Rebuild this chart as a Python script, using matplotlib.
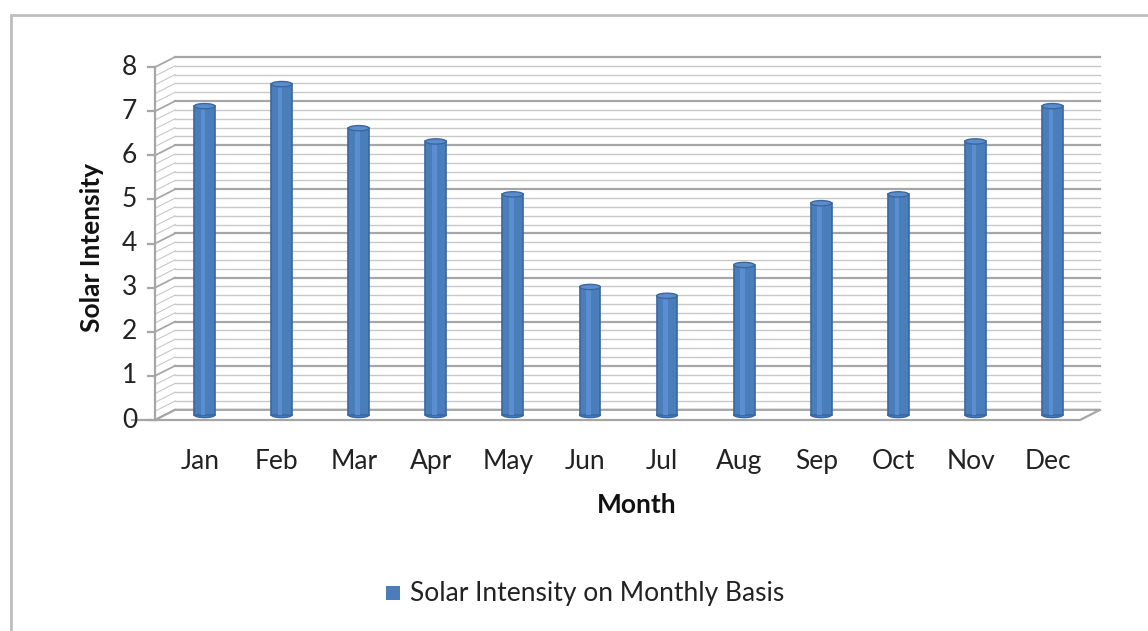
"""Solar intensity per month - Excel-style 3D cylinder column chart."""
import matplotlib
matplotlib.use("Agg")
import matplotlib.pyplot as plt
import numpy as np
from matplotlib import patches

months = ["Jan", "Feb", "Mar", "Apr", "May", "Jun",
          "Jul", "Aug", "Sep", "Oct", "Nov", "Dec"]
intensity = [7.0, 7.5, 6.5, 6.2, 5.0, 2.9, 2.7, 3.4, 4.8, 5.0, 6.2, 7.0]
y_ticks = [0, 1, 2, 3, 4, 5, 6, 7, 8]
series_name = "Solar Intensity on Monthly Basis"

plt.rcParams["font.family"] = ["Lato", "DejaVu Sans"]
FS = 19

BAR = "#4A7EBB"
BAR_EDGE = "#3A67A0"
MAJOR = "#a6a6a6"
MINOR = "#c8c8c8"

fig = plt.figure(figsize=(11.48, 6.31), dpi=100)
W, H = 1148, 631
# axes = back wall + depth; front floor edge at bottom-left
ax = fig.add_axes([155 / W, (H - 420) / H, (1100 - 155) / W, (420 - 57) / H])
ax.set_axis_off()

n = len(months)
x0, x1 = -0.5, n - 0.5
dx, dy = 0.26, 0.23          # depth offset (data units)
ymax = y_ticks[-1]
ax.set_xlim(x0, x1 + dx)
ax.set_ylim(0, ymax + dy)

# back wall gridlines (major + minor) and left side wall
for v in np.round(np.arange(0, ymax + 0.001, 0.2), 2):
    major = abs(v - round(v)) < 1e-6
    c, lw = (MAJOR, 1.6) if major else (MINOR, 1.0)
    ax.plot([x0 + dx, x1 + dx], [v + dy, v + dy], color=c, lw=lw, clip_on=False, zorder=1)
    ax.plot([x0, x0 + dx], [v, v + dy], color=c, lw=lw * 0.8, clip_on=False, zorder=1)

# floor
floor = patches.Polygon([[x0, 0], [x1, 0], [x1 + dx, dy], [x0 + dx, dy]],
                        closed=True, facecolor="white", edgecolor=MAJOR, lw=1.6,
                        clip_on=False, zorder=2)
ax.add_patch(floor)

# front vertical axis with ticks
ax.plot([x0, x0], [0, ymax], color=MAJOR, lw=1.6, clip_on=False, zorder=3)
ax.plot([x0 - 0.3, x0], [0, 0], color=MAJOR, lw=1.6, clip_on=False, zorder=3)
for v in y_ticks:
    ax.plot([x0 - 0.09, x0], [v, v], color=MAJOR, lw=1.6, clip_on=False, zorder=3)
    ax.text(x0 - 0.23, v, str(v), ha="right", va="center", fontsize=FS,
            color="#222222")

# cylinders
bw = 0.27
for i, val in enumerate(intensity):
    cx = i + dx * 0.55
    base = dy * 0.5
    ax.add_patch(patches.Rectangle((cx - bw / 2, base), bw, val, facecolor=BAR,
                                   edgecolor=BAR_EDGE, lw=1.2, zorder=4))
    ax.add_patch(patches.Rectangle((cx - bw * 0.18, base), bw * 0.22, val,
                                   facecolor="#5A8ED0", edgecolor="none", zorder=5))
    ax.add_patch(patches.Ellipse((cx, base + val), bw, 0.12, facecolor="#5C8DCB",
                                 edgecolor=BAR_EDGE, lw=1.0, zorder=6))
    ax.add_patch(patches.Ellipse((cx, base), bw, 0.12, facecolor=BAR,
                                 edgecolor=BAR_EDGE, lw=1.0, zorder=3.9))
    ax.text(i + 0.08, -0.95, months[i], ha="center", va="center", fontsize=FS,
            color="#222222")

ax.text(5.75, -1.93, "Month", ha="center", va="center", fontsize=FS,
        fontweight="bold", color="#111111")
fig.text(92 / W, 1 - 247 / H, "Solar Intensity", rotation=90, ha="center",
         va="center", fontsize=FS, fontweight="bold", color="#111111")

# legend
fig.patches.append(patches.Rectangle((386 / W, 1 - 600 / H), 14 / W, 14 / H,
                                     transform=fig.transFigure, facecolor=BAR,
                                     edgecolor="none"))
fig.text(410 / W, 1 - 593 / H, series_name, ha="left", va="center",
         fontsize=FS, color="#222222")

# chart-area frame
fig.patches.append(patches.Rectangle((11 / W, -0.1), 1.2, 1.1 - 15 / H,
                                     transform=fig.transFigure, facecolor="none",
                                     edgecolor="#bdbdbd", lw=2))

fig.savefig("out.png", dpi=100)
